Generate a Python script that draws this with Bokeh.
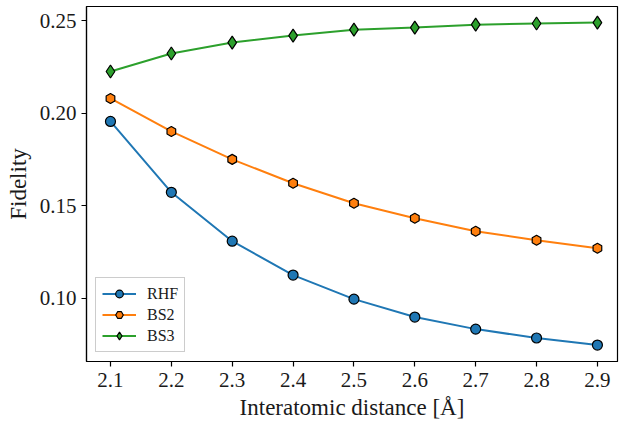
import numpy as np
from bokeh.plotting import figure
from bokeh.models import Range1d, FixedTicker, NumeralTickFormatter, Legend, LegendItem
from bokeh.embed import file_html
from bokeh.resources import INLINE

distance = [2.1, 2.2, 2.3, 2.4, 2.5, 2.6, 2.7, 2.8, 2.9]
rhf = [0.1955, 0.1572, 0.1308, 0.1125, 0.0995, 0.0898, 0.0833, 0.0785, 0.0747]
bs2 = [0.2079, 0.1901, 0.1750, 0.1621, 0.1513, 0.1432, 0.1362, 0.1313, 0.1270]
bs3 = [0.2225, 0.2322, 0.2381, 0.2419, 0.2451, 0.2462, 0.2478, 0.2484, 0.2489]
x_ticks = [2.1, 2.2, 2.3, 2.4, 2.5, 2.6, 2.7, 2.8, 2.9]
y_ticks = [0.10, 0.15, 0.20, 0.25]

FONT = "Liberation Serif"

p = figure(width=621, height=431, output_backend="svg", toolbar_location=None,
           x_range=Range1d(2.0606, 2.933), y_range=Range1d(0.0658, 0.2576),
           min_border_left=86, min_border_right=4, min_border_top=6, min_border_bottom=70)
p.xgrid.visible = False
p.ygrid.visible = False
p.outline_line_color = "black"
p.outline_line_width = 1.2
p.background_fill_color = "white"
p.border_fill_color = "white"

for ax in (p.xaxis[0], p.yaxis[0]):
    ax.axis_line_color = "black"
    ax.axis_line_width = 1.2
    ax.major_tick_out = 5
    ax.major_tick_in = 0
    ax.major_tick_line_width = 1.2
    ax.minor_tick_out = 0
    ax.minor_tick_in = 0
    ax.major_label_text_font = FONT
    ax.major_label_text_font_size = "21px"
    ax.major_label_text_color = "#1a1a1a"
    ax.axis_label_text_font = FONT
    ax.axis_label_text_font_size = "23px"
    ax.axis_label_text_font_style = "normal"
    ax.axis_label_text_color = "#1a1a1a"

p.xaxis.ticker = FixedTicker(ticks=x_ticks)
p.yaxis.ticker = FixedTicker(ticks=y_ticks)
p.xaxis.formatter = NumeralTickFormatter(format="0.0")
p.yaxis.formatter = NumeralTickFormatter(format="0.00")
p.xaxis.axis_label = "Interatomic distance [Å]"
p.yaxis.axis_label = "Fidelity"
p.xaxis.major_label_standoff = 6
p.yaxis.major_label_standoff = 5
p.xaxis.axis_label_standoff = 5
p.yaxis.axis_label_standoff = 6

c1, c2, c3 = "#1f77b4", "#ff7f0e", "#2ca02c"

l1 = p.line(distance, rhf, line_color=c1, line_width=2)
s1 = p.scatter(distance, rhf, marker="circle", size=10, fill_color=c1, line_color="black", line_width=1.2)
l2 = p.line(distance, bs2, line_color=c2, line_width=2)
s2 = p.scatter(distance, bs2, marker="hex", size=10, angle=np.pi / 2, fill_color=c2, line_color="black", line_width=1.2)
l3 = p.line(distance, bs3, line_color=c3, line_width=2)
s3 = p.scatter(distance, bs3, marker="diamond", size=13, fill_color=c3, line_color="black", line_width=1.2)

legend = Legend(items=[
    LegendItem(label="RHF", renderers=[l1, s1]),
    LegendItem(label="BS2", renderers=[l2, s2]),
    LegendItem(label="BS3", renderers=[l3, s3]),
])
legend.location = "bottom_left"
legend.margin = 9
legend.label_text_font = FONT
legend.label_text_font_size = "16px"
legend.label_text_color = "#1a1a1a"
legend.glyph_width = 34
legend.glyph_height = 19
legend.label_standoff = 11
legend.spacing = 2
legend.padding = 6
legend.border_line_color = "#cccccc"
legend.border_line_width = 1
legend.border_line_alpha = 1
legend.background_fill_alpha = 0.85
p.add_layout(legend)

open("out.html", "w").write(file_html(p, INLINE))
